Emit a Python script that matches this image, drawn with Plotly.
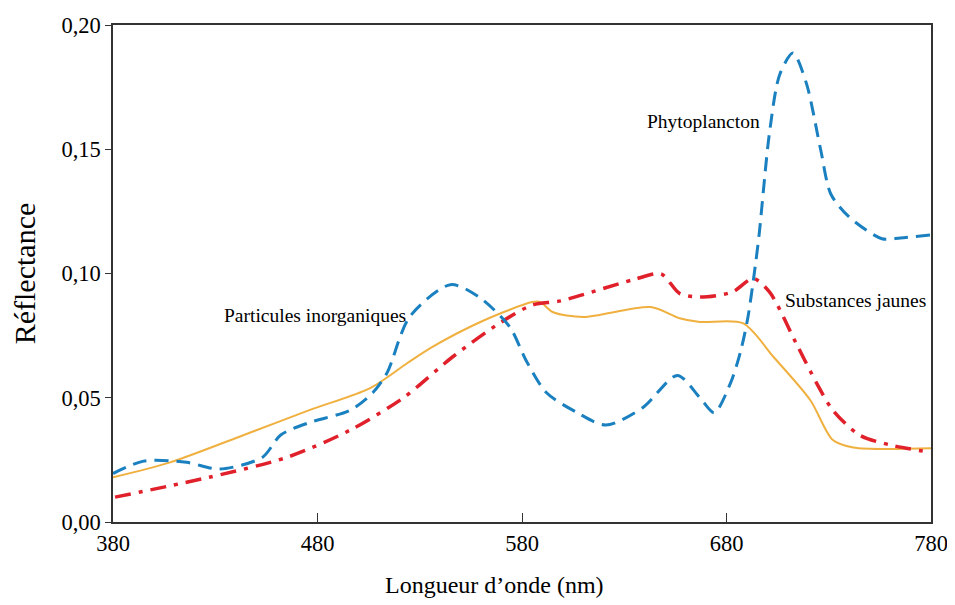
import plotly.graph_objects as go

# Phytoplancton (blue dashed)
phyto_wl = [380, 395, 416, 432, 453, 462, 476, 496, 507, 514, 525, 545, 559, 574, 582, 592, 607, 621,
            639, 656, 667, 674, 682, 687, 690.5, 694, 696, 701, 706, 712.5, 719, 726, 731, 740, 756, 765, 780]
phyto_r = [0.0195, 0.0245, 0.024, 0.0213, 0.026, 0.035, 0.040, 0.045, 0.052, 0.060, 0.0825, 0.0955, 0.0905,
           0.0785, 0.065, 0.052, 0.044, 0.039, 0.046, 0.059, 0.050, 0.044, 0.056, 0.069, 0.0825, 0.1026,
           0.116, 0.1565, 0.180, 0.1887, 0.1767, 0.150, 0.132, 0.1227, 0.114, 0.1143, 0.1155]

# Substances jaunes (red dash-dot)
jaunes_wl = [381, 427, 465, 496, 522, 546, 569, 585, 599, 634, 648, 657, 667, 683, 693, 701, 714,
             724, 732, 745, 760, 780]
jaunes_r = [0.010, 0.018, 0.026, 0.037, 0.050, 0.0664, 0.080, 0.0873, 0.089, 0.0974, 0.0998, 0.092,
            0.0905, 0.0926, 0.098, 0.0926, 0.072, 0.056, 0.045, 0.035, 0.031, 0.028]

# Particules inorganiques (orange solid)
inorg_wl = [380, 408, 444, 476, 506, 524, 536, 561, 585, 589, 595, 610, 643, 657, 667, 688, 703, 721,
            732, 742, 780]
inorg_r = [0.018, 0.024, 0.035, 0.045, 0.054, 0.064, 0.0704, 0.081, 0.0885, 0.0885, 0.0845, 0.0825, 0.0865,
           0.082, 0.0805, 0.080, 0.0664, 0.049, 0.033, 0.030, 0.0297]

x_ticks = [380, 480, 580, 680, 780]
y_ticks = [0.00, 0.05, 0.10, 0.15, 0.20]
y_tick_text = ["0,00", "0,05", "0,10", "0,15", "0,20"]

font_family = "Liberation Serif, Times New Roman, serif"

fig = go.Figure()
fig.add_trace(go.Scatter(x=inorg_wl, y=inorg_r, mode="lines",
                         line=dict(color="#f0b040", width=2, shape="spline", smoothing=0.8),
                         name="Particules inorganiques"))
fig.add_trace(go.Scatter(x=jaunes_wl, y=jaunes_r, mode="lines",
                         line=dict(color="#e0202a", width=3.5, dash="16px,8px,4px,8px", shape="spline", smoothing=0.8),
                         name="Substances jaunes"))
fig.add_trace(go.Scatter(x=phyto_wl, y=phyto_r, mode="lines",
                         line=dict(color="#1a80c0", width=3, dash="14px,8px", shape="spline", smoothing=0.8),
                         name="Phytoplancton"))

ann_font = dict(family=font_family, size=19.5, color="black")
fig.add_annotation(x=640, y=0.161, text="Phytoplancton", showarrow=False, xanchor="left", font=ann_font)
fig.add_annotation(x=479, y=0.0829, text="Particules inorganiques", showarrow=False, xanchor="center", font=ann_font)
fig.add_annotation(x=707.5, y=0.0893, text="Substances jaunes", showarrow=False, xanchor="left", font=ann_font)

# x-axis title (offset to the left as in the original)
fig.add_annotation(xref="paper", yref="paper", x=0.4664, y=-0.127, xanchor="center", yanchor="middle",
                   text="Longueur d\u2019onde (nm)", showarrow=False,
                   font=dict(family=font_family, size=24, color="black"))

fig.update_layout(
    width=947, height=597,
    margin=dict(l=105, r=24, t=17, b=83),
    paper_bgcolor="white", plot_bgcolor="white",
    showlegend=False,
    font=dict(family=font_family, color="black"),
)
fig.update_xaxes(range=[380, 780], tickvals=x_ticks, ticks="inside", ticklen=9, tickcolor="#333",
                 showline=True, linecolor="#333", linewidth=1.5, mirror=True, showgrid=False, zeroline=False,
                 tickfont=dict(size=22.5, family=font_family), automargin=False)
fig.update_yaxes(range=[0, 0.2], tickvals=y_ticks, ticktext=y_tick_text, ticks="outside", ticklen=6, tickcolor="#333",
                 showline=True, linecolor="#333", linewidth=1.5, mirror=True, showgrid=False, zeroline=False,
                 tickfont=dict(size=22.5, family=font_family), automargin=False,
                 title=dict(text="Réflectance", font=dict(size=30, family=font_family), standoff=20))

fig.write_html("out.html")
